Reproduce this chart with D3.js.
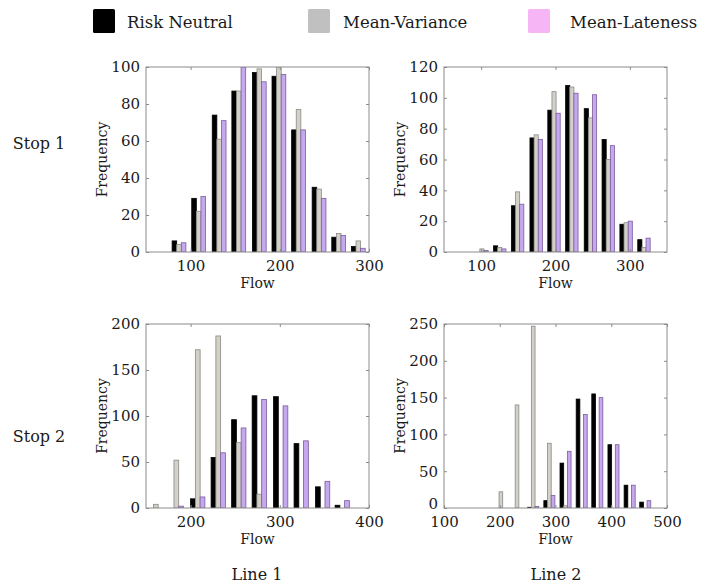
<!DOCTYPE html>
<html>
<head>
<meta charset="utf-8">
<script src="https://cdn.jsdelivr.net/npm/d3@7"></script>
<style>
  html, body { margin: 0; padding: 0; background: #fff; }
  svg { display: block; }
  text { font-family: "DejaVu Serif", serif; fill: #1a1a1a; }
</style>
</head>
<body>
<svg id="chart" width="701" height="587"></svg>
<script>
// ---------- DATA ----------
const seriesNames = ["Risk Neutral", "Mean-Variance", "Mean-Lateness"];
const rowLabels = ["Stop 1", "Stop 2"];
const colLabels = ["Line 1", "Line 2"];

// Stop 1, Line 1
const s1l1Bins = [87, 109, 132, 154, 177, 199, 221, 244, 266, 288];
const s1l1RiskNeutral = [6, 29, 74, 87, 97, 95, 66, 35, 8, 3];
const s1l1MeanVariance = [4, 22, 61, 87, 99, 100, 77, 34, 10, 6];
const s1l1MeanLateness = [5, 30, 71, 100, 92, 96, 66, 29, 9, 2];
const s1l1XTicks = [100, 200, 300];
const s1l1YTicks = [0, 20, 40, 60, 80, 100];

// Stop 1, Line 2
const s1l2Bins = [101, 125, 149, 174, 198, 222, 247, 271, 295, 319];
const s1l2RiskNeutral = [0, 4, 30, 74, 92, 108, 93, 73, 18, 8];
const s1l2MeanVariance = [2, 3, 39, 76, 104, 107, 87, 60, 19, 3];
const s1l2MeanLateness = [1, 2, 31, 73, 90, 103, 102, 69, 20, 9];
const s1l2XTicks = [100, 200, 300];
const s1l2YTicks = [0, 20, 40, 60, 80, 100, 120];

// Stop 2, Line 1
const s2l1Bins = [161, 184, 208, 231, 254, 277, 301, 324, 348, 370];
const s2l1RiskNeutral = [0, 0, 10, 55, 96, 122, 121, 70, 23, 3];
const s2l1MeanVariance = [4, 52, 172, 187, 71, 15, 0, 0, 0, 0];
const s2l1MeanLateness = [0, 2, 12, 60, 87, 118, 111, 73, 29, 8];
const s2l1XTicks = [200, 300, 400];
const s2l1YTicks = [0, 50, 100, 150, 200];

// Stop 2, Line 2
const s2l2Bins = [202, 231, 260, 289, 318, 347, 375, 404, 433, 461];
const s2l2RiskNeutral = [0, 0, 1, 10, 61, 148, 155, 86, 31, 8];
const s2l2MeanVariance = [22, 140, 247, 88, 3, 0, 0, 0, 0, 0];
const s2l2MeanLateness = [0, 0, 2, 17, 77, 127, 150, 86, 31, 10];
const s2l2XTicks = [100, 200, 300, 400, 500];
const s2l2YTicks = [0, 50, 100, 150, 200, 250];

// ---------- STYLE / LAYOUT ----------
const barFill = ["#000000", "#d3d0c8", "#c6a8ef"];
const barStroke = ["#000000", "#8a8a86", "#7a5c9c"];
const legendFill = ["#000000", "#c0c0c0", "#f6b6f6"];

const panels = [
  { bins: s1l1Bins, vals: [s1l1RiskNeutral, s1l1MeanVariance, s1l1MeanLateness],
    xDomain: [50, 300], yDomain: [0, 100], xTicks: s1l1XTicks, yTicks: s1l1YTicks,
    left: 146, top: 67, width: 223, height: 185, binStep: 22.4 },
  { bins: s1l2Bins, vals: [s1l2RiskNeutral, s1l2MeanVariance, s1l2MeanLateness],
    xDomain: [50, 350], yDomain: [0, 120], xTicks: s1l2XTicks, yTicks: s1l2YTicks,
    left: 444, top: 67, width: 223, height: 185, binStep: 24.2 },
  { bins: s2l1Bins, vals: [s2l1RiskNeutral, s2l1MeanVariance, s2l1MeanLateness],
    xDomain: [150, 400], yDomain: [0, 200], xTicks: s2l1XTicks, yTicks: s2l1YTicks,
    left: 146, top: 324, width: 223, height: 184, binStep: 23.2 },
  { bins: s2l2Bins, vals: [s2l2RiskNeutral, s2l2MeanVariance, s2l2MeanLateness],
    xDomain: [100, 500], yDomain: [0, 250], xTicks: s2l2XTicks, yTicks: s2l2YTicks,
    left: 444, top: 324, width: 223, height: 184, binStep: 28.7, raiseZero: true }
];

const svg = d3.select("#chart");

// ---------- LEGEND ----------
const legendSquareX = [93, 308, 528];
const legendTextX = [127, 343, 570];
const leg = svg.append("g");
seriesNames.forEach((name, i) => {
  leg.append("rect").attr("x", legendSquareX[i]).attr("y", 9).attr("width", 22).attr("height", 24)
    .attr("rx", 1.5).attr("fill", legendFill[i]);
  leg.append("text").attr("x", legendTextX[i]).attr("y", 28)
    .attr("font-size", 16.5).text(name);
});

// ---------- PANELS ----------
panels.forEach((p, pi) => {
  const g = svg.append("g").attr("transform", `translate(${p.left},${p.top})`);
  const x = d3.scaleLinear().domain(p.xDomain).range([0, p.width]);
  const y = d3.scaleLinear().domain(p.yDomain).range([p.height, 0]);

  const clipId = "clip" + pi;
  g.append("clipPath").attr("id", clipId).append("rect")
    .attr("x", 0).attr("y", 0).attr("width", p.width).attr("height", p.height);

  const bw = p.binStep * 0.23;
  const bars = g.append("g").attr("clip-path", `url(#${clipId})`);
  p.vals.forEach((arr, si) => {
    const off = (si - 1) * bw;
    bars.selectAll(null).data(arr.map((v, k) => ({ v, c: p.bins[k] })).filter(d => d.v > 0))
      .enter().append("rect")
      .attr("x", d => x(d.c + off - bw / 2))
      .attr("width", d => x(d.c + off + bw / 2) - x(d.c + off - bw / 2))
      .attr("y", d => y(d.v))
      .attr("height", d => y(0) - y(d.v))
      .attr("fill", barFill[si])
      .attr("stroke", barStroke[si])
      .attr("stroke-width", 0.8);
  });

  const ax = (axis, tf) => {
    const a = g.append("g").attr("transform", tf).call(axis);
    a.select(".domain").remove();
    a.selectAll(".tick line").attr("stroke", "#8c8c8c");
    a.selectAll(".tick text").attr("font-size", 15).attr("font-family", "DejaVu Serif").attr("fill", "#1a1a1a");
    return a;
  };
  ax(d3.axisBottom(x).tickValues(p.xTicks).tickSizeInner(-3).tickSizeOuter(0).tickPadding(8),
     `translate(0,${p.height})`);
  ax(d3.axisTop(x).tickValues(p.xTicks).tickSizeInner(-3).tickSizeOuter(0).tickFormat(""),
     `translate(0,0)`);
  const yl = ax(d3.axisLeft(y).tickValues(p.yTicks).tickSizeInner(-3).tickSizeOuter(0).tickPadding(6),
     `translate(0,0)`);
  if (p.raiseZero) {
    yl.selectAll(".tick text").filter(d => d === 0).attr("dy", "0.05em");
  }
  ax(d3.axisRight(y).tickValues(p.yTicks).tickSizeInner(-3).tickSizeOuter(0).tickFormat(""),
     `translate(${p.width},0)`);

  g.append("rect").attr("x", 0).attr("y", 0).attr("width", p.width).attr("height", p.height)
    .attr("fill", "none").attr("stroke", "#8c8c8c").attr("stroke-width", 1);

  g.append("text").attr("x", p.width / 2).attr("y", p.height + 36)
    .attr("text-anchor", "middle").attr("font-size", 14).text("Flow");
  g.append("text").attr("transform", `translate(${-39},${p.height / 2}) rotate(-90)`)
    .attr("text-anchor", "middle").attr("font-size", 14).text("Frequency");
});

// ---------- ROW / COLUMN LABELS ----------
svg.append("text").attr("x", 39).attr("y", 149).attr("text-anchor", "middle")
  .attr("font-size", 16).text(rowLabels[0]);
svg.append("text").attr("x", 39).attr("y", 442).attr("text-anchor", "middle")
  .attr("font-size", 16).text(rowLabels[1]);
svg.append("text").attr("x", 257).attr("y", 580).attr("text-anchor", "middle")
  .attr("font-size", 16).text(colLabels[0]);
svg.append("text").attr("x", 556).attr("y", 580).attr("text-anchor", "middle")
  .attr("font-size", 16).text(colLabels[1]);
</script>
</body>
</html>
